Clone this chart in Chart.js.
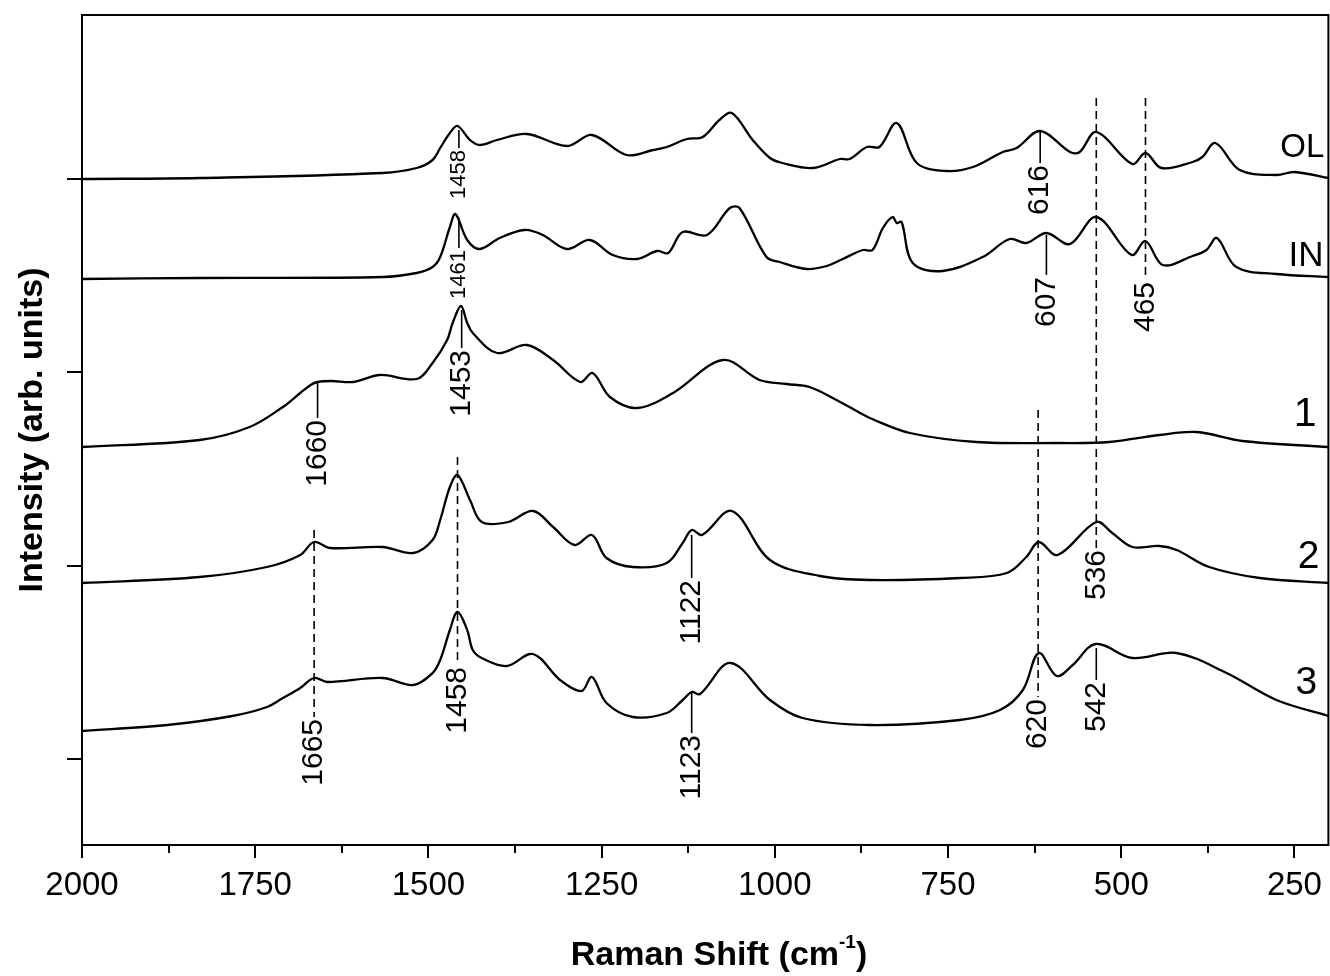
<!DOCTYPE html>
<html>
<head>
<meta charset="utf-8">
<script src="https://cdn.jsdelivr.net/npm/chart.js@4.4.1/dist/chart.umd.min.js"></script>
<style>
    html, body { margin: 0; padding: 0; background: #fff; }
</style>
</head>
<body>
<canvas id="raman" width="1330" height="976"></canvas>
<script>
(function () {
    "use strict";

    const FONT = '"Liberation Sans", Arial, sans-serif';

    // Raman shift (cm-1) / stacked intensity (arb. units)
    const olShift = [2000, 1830, 1566, 1517, 1494, 1483, 1469, 1458, 1440, 1426, 1401, 1358, 1300, 1264, 1214, 1176, 1156, 1127, 1104, 1080, 1062, 1032, 1007, 989, 945, 906, 892, 867, 849, 824, 795, 752, 714, 671, 651, 617, 574, 560, 536, 484, 465, 442, 397, 383, 364, 329, 276, 250, 201];
    const olIntensity = [666, 667, 672, 677, 685, 697, 712, 719, 705, 700, 705, 711, 699, 710, 690, 695, 698, 706, 708, 725, 732, 705, 687, 682, 677, 686, 686, 698, 698, 722, 682, 674, 678, 693, 697, 714, 693, 693, 713, 681, 692, 677, 683, 688, 702, 675, 670, 673, 667];

    const inShift = [2000, 1830, 1566, 1517, 1494, 1483, 1469, 1461, 1444, 1426, 1397, 1361, 1335, 1300, 1267, 1234, 1199, 1170, 1154, 1133, 1098, 1065, 1051, 1012, 993, 954, 925, 902, 873, 859, 844, 830, 824, 817, 801, 758, 700, 661, 637, 608, 574, 536, 485, 465, 440, 397, 377, 362, 334, 276, 201];
    const inIntensity = [566, 567, 568, 572, 578, 588, 618, 631, 605, 596, 607, 615, 610, 596, 605, 590, 586, 594, 592, 613, 610, 637, 637, 588, 583, 576, 579, 586, 595, 595, 617, 628, 622, 623, 582, 574, 588, 606, 602, 612, 601, 628, 590, 604, 580, 589, 595, 607, 578, 571, 568];

    const s1Shift = [2000, 1830, 1758, 1710, 1685, 1670, 1660, 1640, 1609, 1570, 1517, 1494, 1473, 1465, 1453, 1444, 1436, 1401, 1358, 1320, 1281, 1263, 1238, 1199, 1147, 1075, 1022, 983, 950, 911, 877, 863, 805, 709, 589, 517, 445, 391, 325, 201];
    const s1Intensity = [398, 405, 418, 438, 452, 460, 463, 464, 463, 470, 466, 482, 505, 522, 539, 522, 512, 492, 500, 485, 463, 472, 448, 437, 452, 485, 465, 461, 458, 445, 432, 427, 412, 403, 402, 403, 410, 413, 404, 398];

    const s2Shift = [2000, 1830, 1733, 1685, 1665, 1642, 1566, 1522, 1494, 1483, 1469, 1458, 1440, 1423, 1385, 1349, 1320, 1289, 1264, 1243, 1205, 1156, 1133, 1120, 1105, 1062, 1007, 935, 863, 733, 665, 637, 619, 592, 536, 513, 484, 445, 420, 373, 300, 201];
    const s2Intensity = [262, 268, 278, 290, 303, 297, 298, 292, 305, 325, 358, 370, 345, 323, 323, 334, 318, 300, 310, 287, 278, 282, 302, 315, 310, 334, 285, 269, 265, 267, 272, 288, 303, 290, 323, 312, 298, 299, 295, 278, 267, 262];

    const s3Shift = [2000, 1877, 1783, 1733, 1710, 1685, 1665, 1646, 1566, 1522, 1494, 1483, 1469, 1458, 1444, 1436, 1423, 1387, 1349, 1310, 1279, 1264, 1243, 1205, 1156, 1133, 1120, 1108, 1064, 1007, 960, 863, 733, 675, 642, 619, 593, 570, 537, 484, 420, 348, 276, 201];
    const s3Intensity = [114, 120, 129, 138, 147, 157, 167, 163, 167, 160, 172, 185, 215, 233, 215, 195, 187, 179, 191, 165, 154, 168, 142, 128, 132, 145, 153, 151, 182, 145, 127, 120, 125, 135, 155, 192, 169, 180, 201, 187, 192, 172, 145, 129];

    const xTicks = [2000, 1750, 1500, 1250, 1000, 750, 500, 250];
    const xMinorTicks = [1875, 1625, 1375, 1125, 875, 625, 375];
    const yTicks = [86, 279, 473, 666];

    // peak markers: leader line from -> to (intensity units), label below it
    const peakMarks = [
        { shift: 1456, text: "1458", from: 715, to: 697, dashed: false, size: 22 },
        { shift: 1456, text: "1461", from: 627, to: 597, dashed: false, size: 22 },
        { shift: 1452, text: "1453", from: 535, to: 497, dashed: false, size: 30 },
        { shift: 1660, text: "1660", from: 462, to: 427, dashed: false, size: 30 },
        { shift: 617, text: "616", from: 714, to: 682, dashed: false, size: 30 },
        { shift: 608, text: "607", from: 610, to: 570, dashed: false, size: 30 },
        { shift: 465, text: "465", from: 747, to: 565, dashed: true, size: 30 },
        { shift: 536, text: "536", from: 747, to: 297, dashed: true, size: 30 },
        { shift: 620, text: "620", from: 435, to: 148, dashed: true, size: 30 },
        { shift: 1120, text: "1122", from: 310, to: 267, dashed: false, size: 30 },
        { shift: 1120, text: "1123", from: 152, to: 112, dashed: false, size: 30 },
        { shift: 1458, text: "1458", from: 388, to: 180, dashed: true, size: 30 },
        { shift: 1665, text: "1665", from: 315, to: 128, dashed: true, size: 30 },
        { shift: 536, text: "542", from: 197, to: 165, dashed: false, size: 30 },
    ];

    const traceLabels = [
        { text: "OL", shift: 207, level: 697, size: 33 },
        { text: "IN", shift: 208, level: 589, size: 35 },
        { text: "1", shift: 218, level: 430, size: 41 },
        { text: "2", shift: 214, level: 288, size: 39 },
        { text: "3", shift: 217, level: 162, size: 39 },
    ];

    const toPoints = (xs, ys) => xs.map((v, i) => ({ x: v, y: ys[i] }));

    const spectrum = (label, xs, ys) => ({
        label: label,
        data: toPoints(xs, ys),
        borderColor: "#000",
        borderWidth: 2.3,
        pointRadius: 0,
        fill: false,
        tension: 0.35,
    });

    const decorations = {
        id: "decorations",
        afterDatasetsDraw(chart) {
            const { ctx, chartArea: a } = chart;
            const x = chart.scales.x;
            const y = chart.scales.y;
            ctx.save();
            ctx.strokeStyle = "#000";
            ctx.fillStyle = "#000";

            // frame
            ctx.lineWidth = 2;
            ctx.strokeRect(a.left, a.top, a.right - a.left, a.bottom - a.top);

            // minor ticks on the shift axis
            ctx.beginPath();
            xMinorTicks.forEach((v) => {
                const px = Math.round(x.getPixelForValue(v));
                ctx.moveTo(px, a.bottom);
                ctx.lineTo(px, a.bottom + 8);
            });
            ctx.stroke();

            // peak markers
            peakMarks.forEach((m) => {
                const px = x.getPixelForValue(m.shift);
                const top = y.getPixelForValue(m.from);
                const bot = y.getPixelForValue(m.to);
                ctx.lineWidth = 1.6;
                ctx.setLineDash(m.dashed ? [8, 5] : []);
                ctx.beginPath();
                ctx.moveTo(px, top);
                ctx.lineTo(px, bot);
                ctx.stroke();
                ctx.setLineDash([]);

                ctx.save();
                ctx.translate(px, bot + 2);
                ctx.rotate(-Math.PI / 2);
                ctx.font = m.size + "px " + FONT;
                ctx.textAlign = "right";
                ctx.textBaseline = "middle";
                ctx.fillText(m.text, 0, 0);
                ctx.restore();
            });

            // trace names
            ctx.textAlign = "right";
            ctx.textBaseline = "middle";
            traceLabels.forEach((t) => {
                ctx.font = t.size + "px " + FONT;
                ctx.fillText(t.text, x.getPixelForValue(t.shift), y.getPixelForValue(t.level));
            });

            // y title
            ctx.save();
            ctx.translate(42, 430);
            ctx.rotate(-Math.PI / 2);
            ctx.font = "bold 34px " + FONT;
            ctx.textAlign = "center";
            ctx.textBaseline = "alphabetic";
            ctx.fillText("Intensity (arb. units)", 0, 0);
            ctx.restore();

            // x title with superscript
            const main = "Raman Shift (cm";
            const sup = "-1";
            const tail = ")";
            ctx.textAlign = "left";
            ctx.textBaseline = "alphabetic";
            ctx.font = "bold 34px " + FONT;
            const wMain = ctx.measureText(main).width;
            const wTail = ctx.measureText(tail).width;
            ctx.font = "bold 19px " + FONT;
            const wSup = ctx.measureText(sup).width;
            let cx = 719 - (wMain + wSup + wTail) / 2;
            ctx.font = "bold 34px " + FONT;
            ctx.fillText(main, cx, 965);
            cx += wMain;
            ctx.font = "bold 19px " + FONT;
            ctx.fillText(sup, cx, 948);
            cx += wSup;
            ctx.font = "bold 34px " + FONT;
            ctx.fillText(tail, cx, 965);

            ctx.restore();
        },
    };

    new Chart(document.getElementById("raman"), {
        type: "line",
        data: {
            datasets: [
                spectrum("OL", olShift, olIntensity),
                spectrum("IN", inShift, inIntensity),
                spectrum("1", s1Shift, s1Intensity),
                spectrum("2", s2Shift, s2Intensity),
                spectrum("3", s3Shift, s3Intensity),
            ],
        },
        options: {
            responsive: false,
            animation: false,
            layout: { padding: { top: 15, right: 1, bottom: 0, left: 0 } },
            plugins: {
                legend: { display: false },
                tooltip: { enabled: false },
            },
            scales: {
                x: {
                    type: "linear",
                    reverse: true,
                    min: 201,
                    max: 2000,
                    afterBuildTicks: (scale) => {
                        scale.ticks = xTicks.map((v) => ({ value: v }));
                    },
                    afterFit: (scale) => {
                        scale.height = 131;
                    },
                    ticks: {
                        autoSkip: false,
                        maxRotation: 0,
                        padding: 8,
                        color: "#000",
                        font: { family: FONT, size: 33 },
                        callback: (value) => String(value),
                    },
                    grid: {
                        drawOnChartArea: false,
                        drawTicks: true,
                        tickLength: 13,
                        color: "#000",
                        lineWidth: 2,
                    },
                    border: { display: false },
                },
                y: {
                    min: 0,
                    max: 830,
                    afterBuildTicks: (scale) => {
                        scale.ticks = yTicks.map((v) => ({ value: v }));
                    },
                    afterFit: (scale) => {
                        scale.width = 82;
                    },
                    ticks: { display: false },
                    grid: {
                        drawOnChartArea: false,
                        drawTicks: true,
                        tickLength: 15,
                        color: "#000",
                        lineWidth: 2,
                    },
                    border: { display: false },
                },
            },
        },
        plugins: [decorations],
    });
})();
</script>
</body>
</html>
